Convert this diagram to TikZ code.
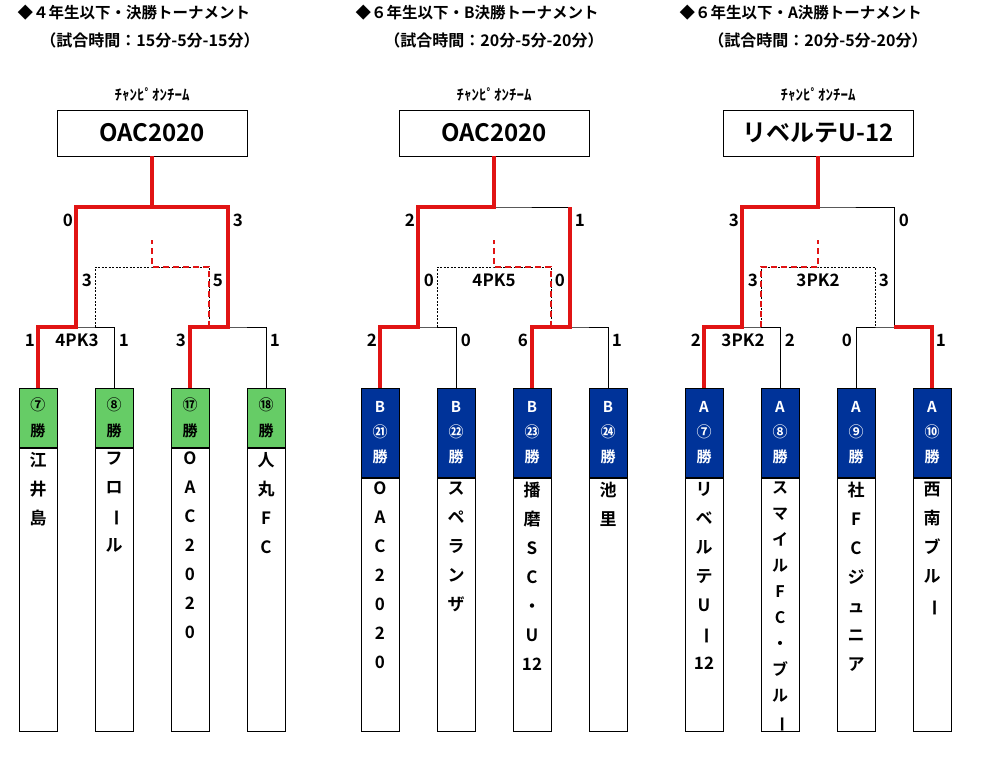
\documentclass[tikz,border=0pt]{standalone}
\usepackage{fontspec}
\setmainfont{Noto Sans CJK JP}[BoldFont={* Bold}]
\usetikzlibrary{positioning}

\definecolor{winred}{RGB}{225,20,20}
\definecolor{headgreen}{RGB}{102,204,102}
\definecolor{headblue}{RGB}{0,51,153}

\tikzset{
  title/.style={anchor=west,font=\fontsize{15.5}{17}\selectfont\bfseries},
  sub/.style={font=\fontsize{16}{18}\selectfont\bfseries},
  champlabel/.style={font=\fontsize{15}{16}\selectfont\bfseries},
  champ/.style={draw,line width=0.8pt,minimum width=190pt,minimum height=46pt,font=\fontsize{24}{26}\selectfont\bfseries},
  score/.style={font=\fontsize{17}{18}\selectfont\bfseries,inner sep=0pt},
  line/.style={line width=0.8pt},
  win/.style={draw=winred,line width=3.2pt},
  third/.style={line width=0.7pt,dash pattern=on 2pt off 1.5pt},
  thirdwin/.style={draw=winred,line width=2pt,dash pattern=on 6pt off 4pt},
  ghead/.style={draw,line width=0.8pt,fill=headgreen,minimum width=38pt,minimum height=59pt,anchor=north,inner sep=0pt,align=center,font=\fontsize{15}{26}\selectfont\bfseries},
  bhead/.style={draw,line width=0.8pt,fill=headblue,text=white,minimum width=38pt,minimum height=89pt,anchor=north,inner sep=0pt,align=center,font=\fontsize{15}{25}\selectfont\bfseries},
  team/.style={draw,line width=0.8pt,minimum width=38pt,anchor=north,inner sep=0pt},
  teamtext/.style={anchor=north,align=center,inner sep=0pt,font=\fontsize{17}{29}\selectfont\bfseries}
}
\newcommand{\vbar}{\rotatebox[origin=c]{-90}{ー}}

\begin{document}
\begin{tikzpicture}[x=1pt,y=-1pt]
\useasboundingbox (0,0) rectangle (989,760);

%% titles
\node[title] at (14,13) {◆４年生以下・決勝トーナメント};
\node[sub] at (150,40) {（試合時間：15分-5分-15分）};
\node[title] at (352,13) {◆６年生以下・B決勝トーナメント};
\node[sub] at (494,40) {（試合時間：20分-5分-20分）};
\node[title] at (676,13) {◆６年生以下・A決勝トーナメント};
\node[sub] at (818,40) {（試合時間：20分-5分-20分）};

%% ---------- 4th grade ----------
\begin{scope}
\node[champlabel] (alab) at (152,95) {ﾁｬﾝﾋﾟｵﾝﾁｰﾑ};
\node[champ] (achamp) at (152,133) {OAC2020};
\foreach \i/\x/\n in {1/38/⑦,2/114/⑧,3/190/⑰,4/266/⑱}
  \node[ghead] (ah\i) at (\x,388) {\n\\勝};
\foreach \i in {1,...,4}
  \node[team,minimum height=283pt,below=0pt of ah\i] (at\i) {};
\node[teamtext] at ([yshift=-4pt]at1.north) {江\\井\\島};
\node[teamtext] at ([yshift=-4pt]at2.north) {フ\\ロ\\\vbar\\ル};
\node[teamtext] at ([yshift=-4pt]at3.north) {O\\A\\C\\2\\0\\2\\0};
\node[teamtext] at ([yshift=-4pt]at4.north) {人\\丸\\F\\C};
\coordinate (as1) at (76,327);
\coordinate (as2) at (228,327);
\coordinate (afin) at (152,207);
\coordinate (at1c) at (95,327);
\coordinate (at2c) at (209,327);
\coordinate (atm) at (152,267);
\coordinate (atc) at (152,240);
% bracket
\draw[line] (ah1.north) |- (as1) -| (ah2.north);
\draw[line] (ah3.north) |- (as2) -| (ah4.north);
\draw[line] (as1) |- (afin) -| (as2);
\draw[line] (afin) -- (achamp.south);
\draw[third] (at1c) |- (atm) -| (at2c);
% winners
\draw[win] (ah1.north) |- (as1) |- (afin) -- (achamp.south);
\draw[win] (ah3.north) |- (as2) |- (afin);
\draw[thirdwin] (at2c) |- (atm) -- (atc);
% scores
\node[score] at (68,220) {0};
\node[score] at (238,220) {3};
\node[score] at (87,280) {3};
\node[score] at (218,280) {5};
\node[score] at (30,340) {1};
\node[score] at (77,340) {4PK3};
\node[score] at (124,340) {1};
\node[score] at (181,340) {3};
\node[score] at (275,340) {1};
\end{scope}

%% ---------- 6th grade B ----------
\begin{scope}[xshift=342pt]
\node[champlabel] (blab) at (152,95) {ﾁｬﾝﾋﾟｵﾝﾁｰﾑ};
\node[champ] (bchamp) at (152,133) {OAC2020};
\foreach \i/\x/\n in {1/38/㉑,2/114/㉒,3/190/㉓,4/266/㉔}
  \node[bhead] (bh\i) at (\x,388) {B\\\n\\勝};
\foreach \i in {1,...,4}
  \node[team,minimum height=253pt,below=0pt of bh\i] (bt\i) {};
\node[teamtext] at ([yshift=-4pt]bt1.north) {O\\A\\C\\2\\0\\2\\0};
\node[teamtext] at ([yshift=-4pt]bt2.north) {ス\\ペ\\ラ\\ン\\ザ};
\node[teamtext] at ([yshift=-4pt]bt3.north) {播\\磨\\S\\C\\・\\U\\12};
\node[teamtext] at ([yshift=-4pt]bt4.north) {池\\里};
\coordinate (bs1) at (76,327);
\coordinate (bs2) at (228,327);
\coordinate (bfin) at (152,207);
\coordinate (bt1c) at (95,327);
\coordinate (bt2c) at (209,327);
\coordinate (btm) at (152,267);
\coordinate (btc) at (152,240);
% bracket
\draw[line] (bh1.north) |- (bs1) -| (bh2.north);
\draw[line] (bh3.north) |- (bs2) -| (bh4.north);
\draw[line] (bs1) |- (bfin) -| (bs2);
\draw[line] (bfin) -- (bchamp.south);
\draw[third] (bt1c) |- (btm) -| (bt2c);
% winners
\draw[win] (bh1.north) |- (bs1) |- (bfin) -- (bchamp.south);
\draw[win] (bh3.north) |- (bs2) -- (bs2 |- bfin);
\draw[thirdwin] (bt2c) |- (btm) -- (btc);
% scores
\node[score] at (68,220) {2};
\node[score] at (238,220) {1};
\node[score] at (87,280) {0};
\node[score] at (218,280) {0};
\node[score] at (152,280) {4PK5};
\node[score] at (30,340) {2};
\node[score] at (124,340) {0};
\node[score] at (181,340) {6};
\node[score] at (275,340) {1};
\end{scope}

%% ---------- 6th grade A ----------
\begin{scope}[xshift=666pt]
\node[champlabel] (clab) at (152,95) {ﾁｬﾝﾋﾟｵﾝﾁｰﾑ};
\node[champ] (cchamp) at (152,133) {リベルテU-12};
\foreach \i/\x/\n in {1/38/⑦,2/114/⑧,3/190/⑨,4/266/⑩}
  \node[bhead] (ch\i) at (\x,388) {A\\\n\\勝};
\foreach \i in {1,...,4}
  \node[team,minimum height=253pt,below=0pt of ch\i] (ct\i) {};
\node[teamtext] at ([yshift=-4pt]ct1.north) {リ\\ベ\\ル\\テ\\U\\\vbar\\12};
\node[teamtext,font=\fontsize{16}{26}\selectfont\bfseries] at ([yshift=-4pt]ct2.north) {ス\\マ\\イ\\ル\\F\\C\\・\\ブ\\ル\\\vbar};
\node[teamtext] at ([yshift=-4pt]ct3.north) {社\\F\\C\\ジ\\ュ\\ニ\\ア};
\node[teamtext] at ([yshift=-4pt]ct4.north) {西\\南\\ブ\\ル\\\vbar};
\coordinate (cs1) at (76,327);
\coordinate (cs2) at (228,327);
\coordinate (cfin) at (152,207);
\coordinate (ct1c) at (95,327);
\coordinate (ct2c) at (209,327);
\coordinate (ctm) at (152,267);
\coordinate (ctc) at (152,240);
% bracket
\draw[line] (ch1.north) |- (cs1) -| (ch2.north);
\draw[line] (ch3.north) |- (cs2) -| (ch4.north);
\draw[line] (cs1) |- (cfin) -| (cs2);
\draw[line] (cfin) -- (cchamp.south);
\draw[third] (ct1c) |- (ctm) -| (ct2c);
% winners
\draw[win] (ch1.north) |- (cs1) |- (cfin) -- (cchamp.south);
\draw[win] (ch4.north) |- (cs2);
\draw[thirdwin] (ct1c) |- (ctm) -- (ctc);
% scores
\node[score] at (68,220) {3};
\node[score] at (238,220) {0};
\node[score] at (87,280) {3};
\node[score] at (218,280) {3};
\node[score] at (152,280) {3PK2};
\node[score] at (30,340) {2};
\node[score] at (77,340) {3PK2};
\node[score] at (124,340) {2};
\node[score] at (181,340) {0};
\node[score] at (275,340) {1};
\end{scope}

\end{tikzpicture}
\end{document}
